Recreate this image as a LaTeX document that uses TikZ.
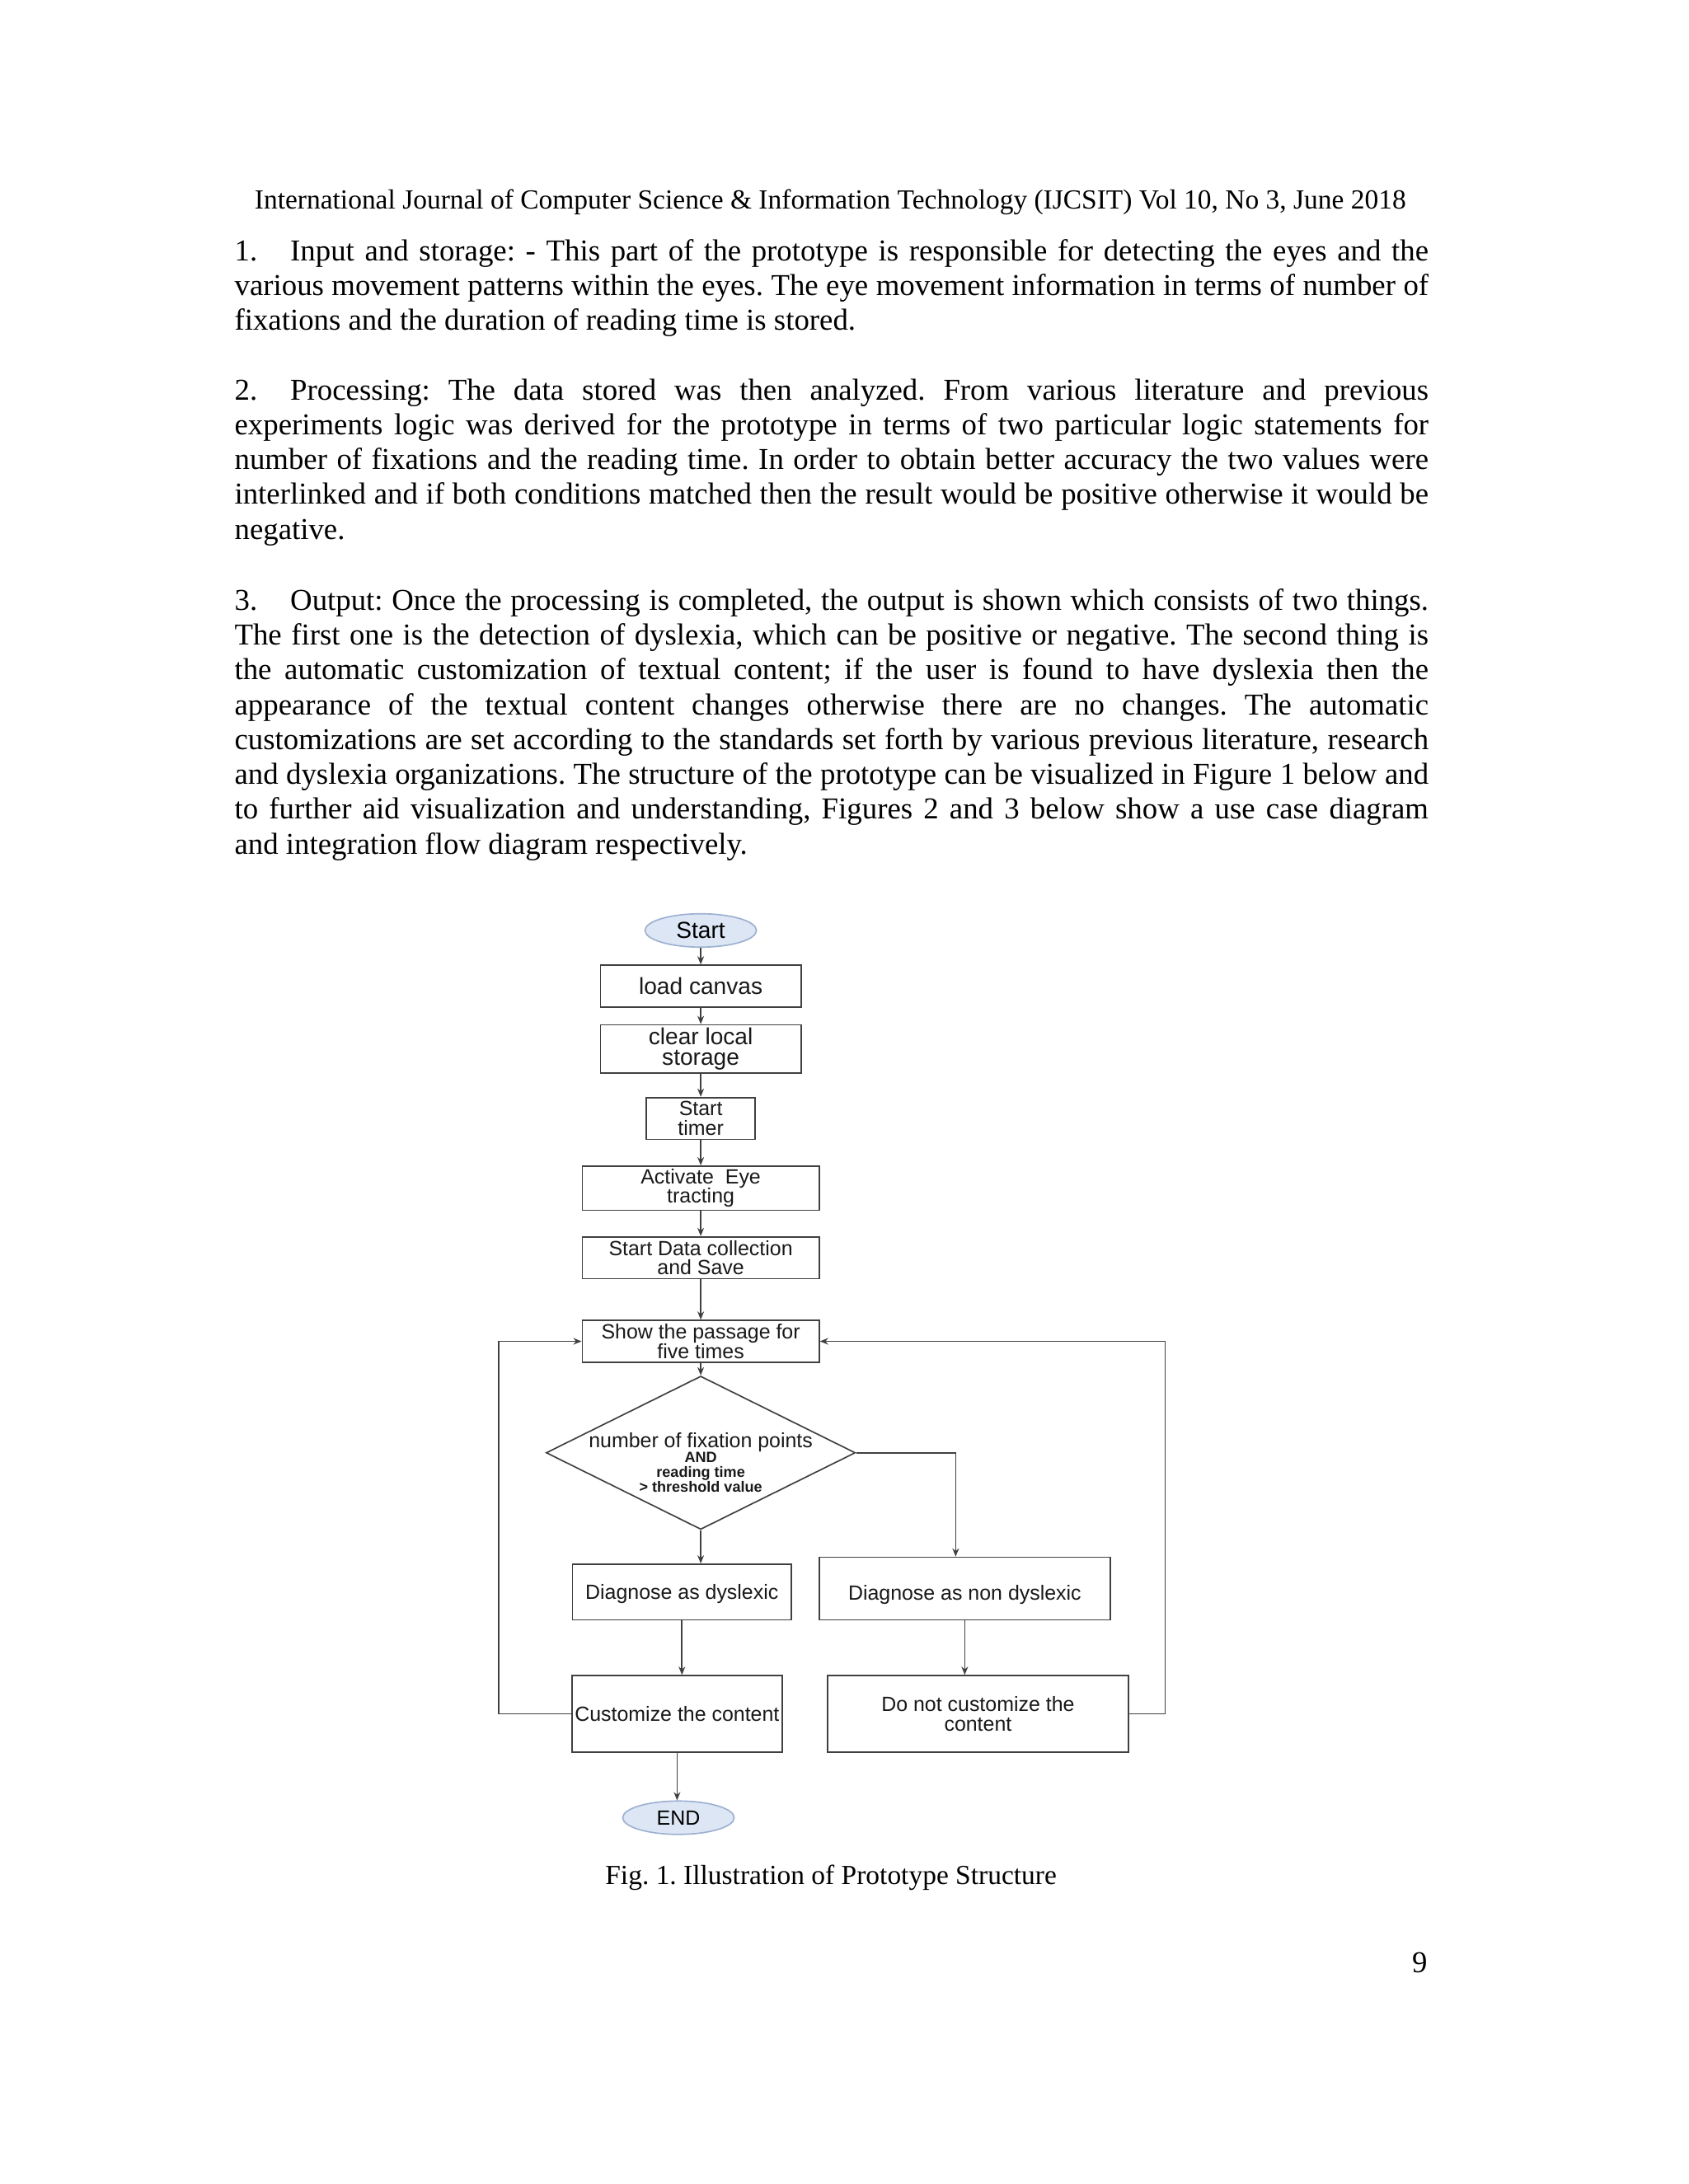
\documentclass[tikz,border=0pt]{standalone}
\usepackage{fontspec}
\setmainfont{Liberation Serif}
\setsansfont{Liberation Sans}
\usetikzlibrary{shapes.geometric, arrows.meta}

\definecolor{linegray}{HTML}{404040}
\definecolor{termfill}{HTML}{DCE6F5}
\definecolor{termline}{HTML}{9DB1D1}

\hyphenpenalty=10000
\tolerance=9999
\frenchspacing

\tikzset{
    body/.style={inner sep=0pt, font=\fontsize{11}{12.63}\selectfont},
    small/.style={inner sep=0pt, font=\fontsize{10}{12}\selectfont},
    para/.style={body, anchor=base west, text width=432.8pt, align=justify},
    box/.style={draw=linegray, line width=0.5pt, rectangle, inner sep=1pt, align=center,
        text=black!90, font=\sffamily\fontsize{7.45}{7.05}\selectfont},
    bigbox/.style={box, font=\sffamily\fontsize{8.4}{7.6}\selectfont},
    term/.style={draw=termline, fill=termfill, line width=0.5pt, ellipse, inner sep=0pt,
        minimum width=40.4pt, minimum height=12.1pt, font=\sffamily\fontsize{8.4}{9}\selectfont},
    decision/.style={draw=linegray, line width=0.5pt, diamond, inner sep=0pt,
        minimum width=112.1pt, minimum height=55.6pt},
    condtext/.style={inner sep=0pt, align=center, text=black!90,
        font=\sffamily\bfseries\fontsize{5.4}{5.4}\selectfont},
    line/.style={draw=linegray, line width=0.5pt},
}

\begin{document}
\begin{tikzpicture}[x=0.505pt, y=-0.505pt, >={Stealth[length=3pt,width=2.4pt]}]
    % Page
    \useasboundingbox (0,0) rectangle (1212,1568);
    \fill[white] (0,0) rectangle (1212,1568);

    % Header and text
    \node[small, anchor=base] (head) at (596,150)
        {International Journal of Computer Science \& Information Technology (IJCSIT) Vol 10, No 3, June 2018};

    \node[para] (p1) at (168,187)
        {\makebox[20.2pt][l]{1.}Input and storage: - This part of the prototype is responsible for detecting the eyes and the\linebreak
        various movement patterns within the eyes. The eye movement information in terms of number of\linebreak
        fixations and the duration of reading time is stored.};

    \node[para] (p2) at (168,287)
        {\makebox[20.2pt][l]{2.}Processing: The data stored was then analyzed. From various literature and previous\linebreak
        experiments logic was derived for the prototype in terms of two particular logic statements for\linebreak
        number of fixations and the reading time. In order to obtain better accuracy the two values were\linebreak
        interlinked and if both conditions matched then the result would be positive otherwise it would be\linebreak
        negative.};

    \node[para] (p3) at (168,438)
        {\makebox[20.2pt][l]{3.}Output: Once the processing is completed, the output is shown which consists of two things.\linebreak
        The first one is the detection of dyslexia, which can be positive or negative. The second thing is\linebreak
        the automatic customization of textual content; if the user is found to have dyslexia then the\linebreak
        appearance of the textual content changes otherwise there are no changes. The automatic\linebreak
        customizations are set according to the standards set forth by various previous literature, research\linebreak
        and dyslexia organizations. The structure of the prototype can be visualized in Figure 1 below and\linebreak
        to further aid visualization and understanding, Figures 2 and 3 below show a use case diagram\linebreak
        and integration flow diagram respectively.};

    % Flowchart nodes
    \node[term] (start) at (503,668) {Start};
    \node[bigbox, minimum width=72.7pt, minimum height=15.2pt] (load) at (503,708) {load canvas};
    \node[bigbox, minimum width=72.7pt, minimum height=15.2pt] (clear) at (503,753) {clear local\\storage};
    \node[box, minimum width=39.4pt, minimum height=15.2pt] (timer) at (503,803) {Start\\timer};
    \node[box, minimum width=85.9pt, minimum height=15.2pt] (eye) at (503,853) {Activate\ \ Eye\\tracting};
    \node[box, minimum width=85.9pt, minimum height=15.2pt] (data) at (503,903) {Start Data collection\\and Save};
    \node[box, minimum width=85.9pt, minimum height=15.2pt] (show) at (503,963) {Show the passage for\\five times};
    \node[decision] (dec) at (503,1043) {};
    \node[condtext] (cond) at (503,1050)
        {{\mdseries\fontsize{7.45}{7.45}\selectfont number of fixation points}\\AND\\reading time\\> threshold value};
    \node[box, minimum width=79.3pt, minimum height=20.2pt, text height=7pt] (dys) at (489.5,1143) {Diagnose as dyslexic};
    \node[box, minimum width=105.5pt, minimum height=22.7pt, text height=10pt] (nondys) at (692.5,1140.5) {Diagnose as non dyslexic};
    \node[box, minimum width=75.75pt, minimum height=27.8pt] (cust) at (486,1230.5) {Customize the content};
    \node[box, minimum width=109pt, minimum height=27.8pt] (nocust) at (702,1230.5) {Do not customize the\\content};
    \node[term, font=\sffamily\fontsize{7.45}{9}\selectfont] (end) at (487,1305) {END};

    % Flowchart edges
    \draw[line, ->] (start) -- (load);
    \draw[line, ->] (load) -- (clear);
    \draw[line, ->] (clear) -- (timer);
    \draw[line, ->] (timer) -- (eye);
    \draw[line, ->] (eye) -- (data);
    \draw[line, ->] (data) -- (show);
    \draw[line, ->] (show) -- (dec);
    \draw[line, ->] (dec.south) -- (dec.south |- dys.north);
    \coordinate (split) at (686,1043);
    \draw[line, ->] (dec.east) -- (split) -- (split |- nondys.north);
    \draw[line, ->] (dys.south) -- (dys.south |- cust.north);
    \draw[line, ->] (nondys.south) -- (nondys.south |- nocust.north);
    \draw[line, ->] (cust.south) -- (cust.south |- end.north);
    \draw[line, ->] (cust.west) -- ++(-52,0) |- (show.west);
    \draw[line, ->] (nocust.east) -- ++(26,0) |- (show.east);

    % Caption and page number
    \node[small, anchor=base] (caption) at (596.5,1353) {Fig. 1. Illustration of Prototype Structure};
    \node[body, anchor=base east] (pagenum) at (1025,1416) {9};
\end{tikzpicture}
\end{document}
